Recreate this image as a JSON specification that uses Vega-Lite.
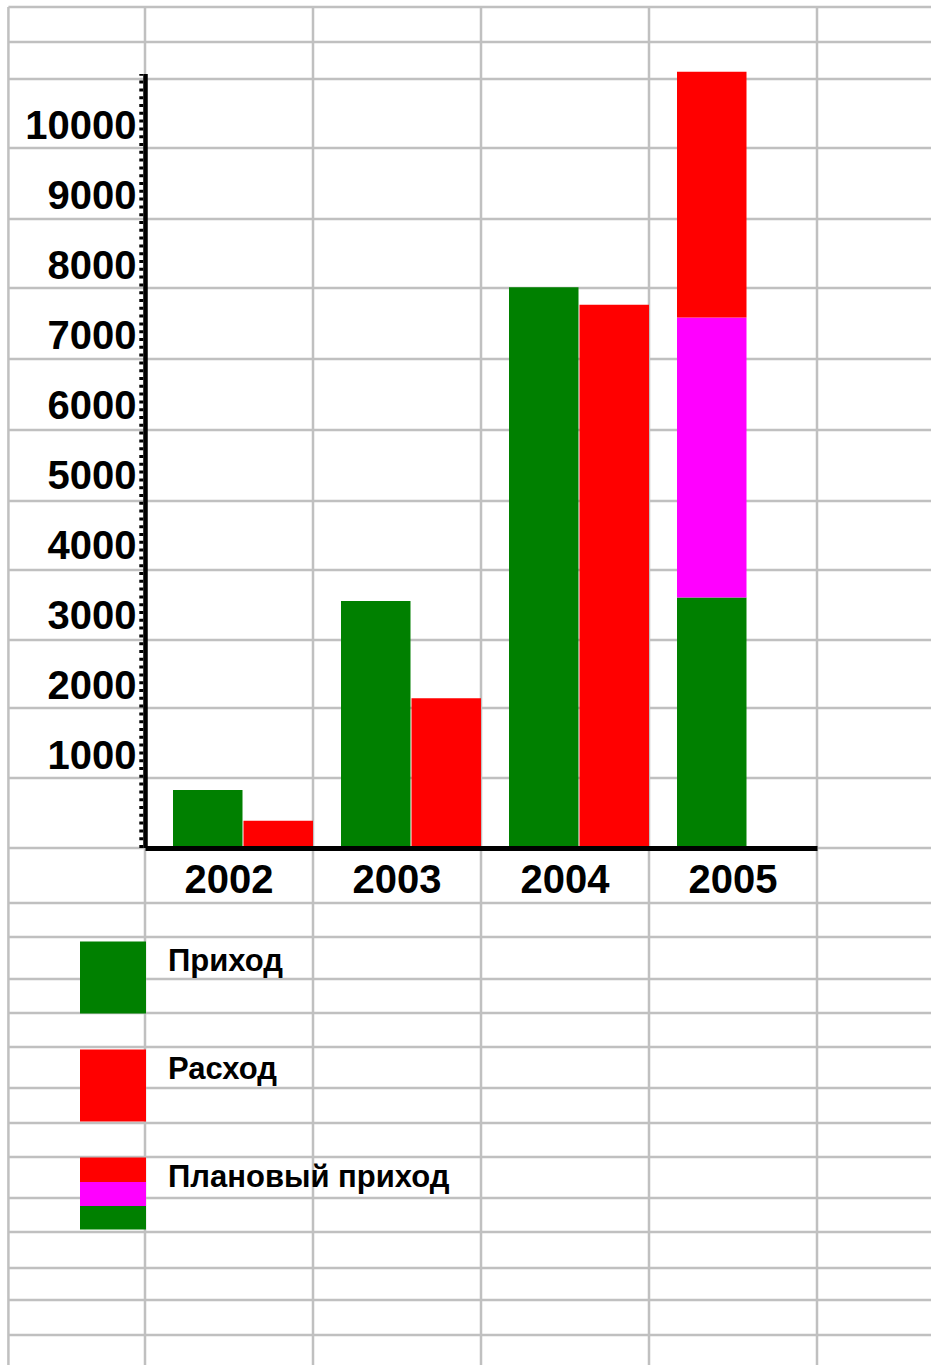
{
  "$schema": "https://vega.github.io/schema/vega-lite/v6.json",
  "width": 672,
  "height": 774,
  "autosize": {"type": "none"},
  "padding": {"left": 145, "top": 74, "right": 114, "bottom": 517},
  "background": "white",
  "config": {
    "view": {"stroke": null},
    "font": "Liberation Sans",
    "axisY": {
      "title": null, "labelFontSize": 40, "labelFontWeight": "bold", "labelColor": "black",
      "labelFont": "Liberation Sans", "labelPadding": 9, "labelOffset": -9.5,
      "labelBaseline": "alphabetic", "labelFlush": false, "labelOverlap": false,
      "ticks": false, "tickSize": 0, "grid": false, "domain": false, "zindex": 1
    },
    "legend": {
      "title": null, "orient": "none", "direction": "vertical",
      "symbolSize": 4356, "symbolStrokeWidth": 0, "symbolOpacity": 1,
      "labelFontSize": 31, "labelFontWeight": "bold", "labelColor": "black",
      "labelFont": "Liberation Sans", "labelOffset": 22, "labelBaseline": "bottom",
      "rowPadding": 36, "padding": 0, "labelLimit": 500
    }
  },
  "resolve": {"scale": {"x": "independent"}},
  "layer": [
    {
      "data": {"values": [
        {"row": 12014}, {"row": 11514}, {"row": 10986}, {"row": 10000}, {"row": 8986},
        {"row": 8000}, {"row": 6986}, {"row": 5971}, {"row": 4957}, {"row": 3971},
        {"row": 2971}, {"row": 2000}, {"row": 1000}, {"row": 0}, {"row": -786},
        {"row": -1271}, {"row": -1871}, {"row": -2357}, {"row": -2843}, {"row": -3429},
        {"row": -3929}, {"row": -4414}, {"row": -5000}, {"row": -5486}, {"row": -6000},
        {"row": -6457}, {"row": -6957}
      ]},
      "mark": {"type": "rule", "color": "#C0C0C0", "strokeWidth": 2.5},
      "encoding": {
        "y": {"field": "row", "type": "quantitative", "scale": {"domain": [0, 11057], "nice": false, "zero": false},
              "axis": {"title": null, "format": "d", "values": [1000, 2000, 3000, 4000, 5000, 6000, 7000, 8000, 9000, 10000]}},
        "x": {"datum": 2000.687, "type": "quantitative", "scale": {"domain": [2001.5, 2005.5], "nice": false, "zero": false}, "axis": null},
        "x2": {"datum": 2006.3}
      }
    },
    {
      "data": {"values": [
        {"col": 2000.687}, {"col": 2001.5}, {"col": 2002.5}, {"col": 2003.5}, {"col": 2004.5}, {"col": 2005.5}
      ]},
      "mark": {"type": "rule", "color": "#C0C0C0", "strokeWidth": 2.5},
      "encoding": {
        "x": {"field": "col", "type": "quantitative", "scale": {"domain": [2001.5, 2005.5], "nice": false, "zero": false}, "axis": null},
        "y": {"datum": 12014, "type": "quantitative", "scale": {"domain": [0, 11057], "nice": false, "zero": false},
              "axis": {"title": null, "format": "d", "values": [1000, 2000, 3000, 4000, 5000, 6000, 7000, 8000, 9000, 10000]}},
        "y2": {"datum": -7600}
      }
    },
    {
      "data": {"values": [{}]},
      "mark": {"type": "rule", "color": "black", "strokeWidth": 4, "strokeDash": [3, 4.8], "strokeCap": "butt"},
      "encoding": {
        "x": {"datum": 2001.478, "type": "quantitative", "scale": {"domain": [2001.5, 2005.5], "nice": false, "zero": false}, "axis": null},
        "y": {"datum": 0, "type": "quantitative", "scale": {"domain": [0, 11057], "nice": false, "zero": false},
              "axis": {"title": null, "format": "d", "values": [1000, 2000, 3000, 4000, 5000, 6000, 7000, 8000, 9000, 10000]}},
        "y2": {"datum": 11057}
      }
    },
    {
      "data": {"values": [{}]},
      "mark": {"type": "rule", "color": "black", "strokeWidth": 4.5, "strokeCap": "butt"},
      "encoding": {
        "x": {"datum": 2001.503, "type": "quantitative", "scale": {"domain": [2001.5, 2005.5], "nice": false, "zero": false}, "axis": null},
        "y": {"datum": 0, "type": "quantitative", "scale": {"domain": [0, 11057], "nice": false, "zero": false},
              "axis": {"title": null, "format": "d", "values": [1000, 2000, 3000, 4000, 5000, 6000, 7000, 8000, 9000, 10000]}},
        "y2": {"datum": 11057}
      }
    },
    {
      "data": {"values": [
        {"year": "2002", "series": "Приход", "slot": "a", "start": 0, "end": 830},
        {"year": "2002", "series": "Расход", "slot": "b", "start": 0, "end": 390},
        {"year": "2003", "series": "Приход", "slot": "a", "start": 0, "end": 3530},
        {"year": "2003", "series": "Расход", "slot": "b", "start": 0, "end": 2140},
        {"year": "2004", "series": "Приход", "slot": "a", "start": 0, "end": 8010},
        {"year": "2004", "series": "Расход", "slot": "b", "start": 0, "end": 7760},
        {"year": "2005", "series": "Приход", "slot": "a", "start": 0, "end": 3580},
        {"year": "2005", "series": "Плановый приход", "slot": "a", "start": 3580, "end": 7580},
        {"year": "2005", "series": "Расход", "slot": "a", "start": 7580, "end": 11090}
      ]},
      "mark": {"type": "bar"},
      "encoding": {
        "x": {
          "field": "year", "type": "nominal",
          "scale": {"paddingInner": 0.16667, "paddingOuter": 0.08333, "align": 1},
          "axis": {
            "title": null, "labelAngle": 0, "labelFontSize": 40, "labelFontWeight": "bold",
            "labelColor": "black", "labelFont": "Liberation Sans", "labelOffset": -14,
            "labelPadding": 44, "labelBaseline": "alphabetic", "ticks": false, "tickSize": 0,
            "domainColor": "black", "domainWidth": 5, "grid": false, "zindex": 1
          }
        },
        "xOffset": {"field": "slot", "type": "nominal", "scale": {"domain": ["a", "b"], "paddingInner": 0.014, "paddingOuter": 0}},
        "y": {
          "field": "end", "type": "quantitative",
          "scale": {"domain": [0, 11057], "nice": false, "zero": false},
          "axis": {"title": null, "format": "d", "values": [1000, 2000, 3000, 4000, 5000, 6000, 7000, 8000, 9000, 10000]}
        },
        "y2": {"field": "start"},
        "color": {
          "field": "series", "type": "nominal",
          "scale": {"domain": ["Приход", "Расход", "Плановый приход"], "range": ["#008000", "#FF0000", "#FF00FF"]},
          "legend": {
            "values": ["Приход", "Расход"], "legendX": -65, "legendY": 870.5,
            "symbolType": "M-1,-1.09H1V1.09H-1Z"
          }
        }
      }
    },
    {
      "data": {"values": [{"entry": "Плановый приход"}]},
      "mark": {"type": "point", "filled": true, "opacity": 0},
      "encoding": {
        "fill": {"field": "entry", "type": "nominal", "legend": null},
        "shape": {
          "field": "entry", "type": "nominal",
          "scale": {"domain": ["Плановый приход"], "range": ["M-1,-1.09H1V1.09H-1Z"]},
          "legend": {
            "legendX": -65, "legendY": 1086.5, "zindex": 1,
            "symbolFillColor": {"value": {
              "gradient": "linear", "x1": 0, "y1": 0, "x2": 0, "y2": 1,
              "stops": [
                {"offset": 0, "color": "#FF0000"}, {"offset": 0.34, "color": "#FF0000"},
                {"offset": 0.34, "color": "#FF00FF"}, {"offset": 0.67, "color": "#FF00FF"},
                {"offset": 0.67, "color": "#008000"}, {"offset": 1, "color": "#008000"}
              ]
            }}
          }
        }
      }
    }
  ]
}
